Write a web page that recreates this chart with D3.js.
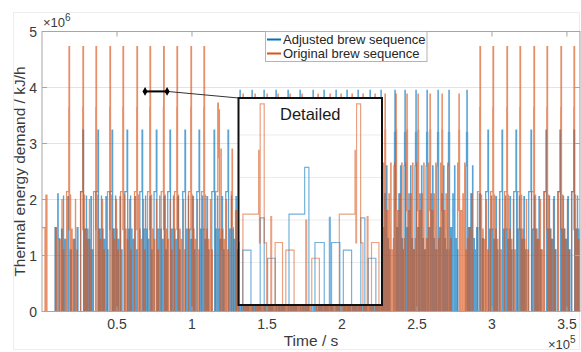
<!DOCTYPE html>
<html><head><meta charset="utf-8">
<script src="https://cdn.jsdelivr.net/npm/d3@7"></script>
<style>
html,body{margin:0;padding:0;background:#fff;}
svg{display:block;font-family:"Liberation Sans",Arial,Helvetica,sans-serif;}
</style></head><body>
<svg id="chart" width="581" height="352"></svg>
<script>
// ---------------- data (time in s, thermal energy demand in kJ/h) ----------------
const seriesNames = ["Adjusted brew sequence", "Original brew sequence"];
const xTickValues = [50000, 100000, 150000, 200000, 250000, 300000, 350000];
const xTickLabels = ["0.5", "1", "1.5", "2", "2.5", "3", "3.5"];
const yTickValues = [0, 1e6, 2e6, 3e6, 4e6, 5e6];
const yTickLabels = ["0", "1", "2", "3", "4", "5"];
const gridValues = [1e6, 2e6, 3e6, 4e6];

// Original sequence: brew cycles starting with the 4.73e6 peak (times read from the peaks)
const origCycleTimes = [18000, 27300, 36000, 45300, 54000, 63300, 72000, 81100, 90000, 99300, 108000,
  292000, 300700, 310000, 318700, 328000, 336700, 346000, 354700];
// one brew cycle, read from the "Detailed" view (offset to peak in s, level in kJ/h)
const origCycleOffsets = [-1630, -150, -70, 0, 380, 600, 1000, 1080, 1410, 2110, 2420, 3200, 4300, 4390, 4870, 5590];
const origCycleLevels = [2.14e6, 3.64e6, 1.46e6, 4.73e6, 1.46e6, 0, 2.08e6, 0, 1.47e6, 0, 1.29e6, 0, 2.0e6, 0, 1.1e6, 0];
// middle part: denser cycles with ~3.9e6 peaks
const origPeakTimes = [134000, 142000, 150000, 157300, 165300, 173300, 184000, 192000, 199300, 206700, 214000,
  222000, 228700, 236000, 243300, 250700, 258700, 266700, 278000];
const origPeakOffsets = [-900, -400, -150, 0, 200, 400, 1200, 2100, 2600, 2900, 3500, 3800, 4050, 4400, 5000, 5600, 6200];
const origPeakLevels = [2.65e6, 1.8e6, 3.24e6, 3.88e6, 3.24e6, 0, 1.8e6, 0, 2.1e6, 1.5e6, 0, 2.65e6, 0, 1.1e6, 0, 1.3e6, 0];
// remaining steps (start and transitions)
const origExtraTimes = [0, 2000, 2600, 3300, 9000, 9600, 11400, 12200, 13300, 13400, 13900, 14600,
  115700, 117200, 117600, 118000, 118300, 118600, 119300, 119500, 119900, 120600, 121000, 121700,
  123000, 123100, 123700, 124400, 126200, 126700, 127000, 127600, 129000, 129800, 131000, 131600,
  284800, 285500, 286500, 286800, 287400];
const origExtraLevels = [1.5e6, 0, 2.08e6, 0, 1.5e6, 0, 1.29e6, 0, 2.0e6, 0, 1.1e6, 0,
  2.14e6, 3.72e6, 2.75e6, 3.6e6, 1.46e6, 0, 2.9e6, 1.1e6, 1.47e6, 0, 1.29e6, 0,
  2.0e6, 0, 1.1e6, 0, 2.14e6, 2.9e6, 1.5e6, 0, 1.8e6, 0, 2.65e6, 0,
  1.5e6, 0, 2.1e6, 1.1e6, 0];

// Adjusted sequence: brew cycles starting with the 3.24e6 peak
const adjCycleTimes = [27300, 37300, 46700, 56700, 66700, 76200, 85300, 95300, 104700, 114700, 124000,
  297300, 306700, 316000, 326000, 336000, 345300, 354700];
const adjCycleOffsets = [-1480, 0, 400, 970, 1850, 2330, 2420, 2540, 3320, 3650, 4430, 5300, 5680, 6000, 6720];
const adjCycleLevels = [2.14e6, 3.24e6, 0, 1.47e6, 0, 2.06e6, 0, 1.47e6, 0, 1.29e6, 0, 2.05e6, 0, 1.1e6, 0];
const adjPeakTimes = [132000, 140000, 148000, 156000, 164000, 172000, 180700, 188000, 196000, 203300, 210700,
  218700, 226000, 235300, 242000, 249300, 256700, 264000, 271300, 283300];
const adjPeakOffsets = [-600, -300, 0, 200, 450, 1200, 1900, 2600, 2850, 3500, 3750, 4000, 4300, 5000, 5500, 6000];
const adjPeakLevels = [2.6e6, 3.2e6, 3.95e6, 3.2e6, 0, 1.5e6, 0, 2.1e6, 1.8e6, 0, 2.6e6, 0, 1.3e6, 0, 1.1e6, 0];
const adjExtraTimes = [8700, 9400, 10500, 10800, 11500, 13000, 13800, 14300, 14400, 15000, 15800, 17200, 17600,
  18800, 19500, 21300, 22000, 23400, 24000, 289800, 290500, 291600, 292300, 293500, 294200];
const adjExtraLevels = [1.5e6, 0, 2.1e6, 1.3e6, 0, 1.47e6, 0, 2.06e6, 0, 1.29e6, 0, 2.05e6, 0,
  1.1e6, 0, 1.29e6, 0, 1.5e6, 0, 1.5e6, 0, 2.1e6, 0, 1.3e6, 0];

// detailed view window and its marker in the main plot
const detailSpan = [70000, 83500];
const detailMax = 4.87e6;
const calloutSpan = [68700, 83400];
const calloutLevel = 3.93e6;

// ---------------- drawing ----------------
const colAdj = "#0072BD", colOrig = "#D95319";
const svg = d3.select("#chart");
const M = {left: 42, right: 580, top: 31.5, bottom: 311.5};
const tMax = 358700;
const x = d3.scaleLinear().domain([0, tMax]).range([M.left, M.right]);
const y = d3.scaleLinear().domain([0, 5e6]).range([M.bottom, M.top]);

function buildSteps(parts) {
  const pts = [];
  parts.forEach(p => {
    if (p.anchors) p.anchors.forEach(T => p.offsets.forEach((o, i) => pts.push([T + o, p.levels[i]])));
    else p.times.forEach((t, i) => pts.push([t, p.levels[i]]));
  });
  pts.sort((a, b) => a[0] - b[0]);
  if (pts[0][0] > 0) pts.unshift([0, 0]);
  pts.push([tMax + 5000, pts[pts.length - 1][1]]);
  return pts;
}
const origSteps = buildSteps([
  {anchors: origCycleTimes, offsets: origCycleOffsets, levels: origCycleLevels},
  {anchors: origPeakTimes, offsets: origPeakOffsets, levels: origPeakLevels},
  {times: origExtraTimes, levels: origExtraLevels}]);
const adjSteps = buildSteps([
  {anchors: adjCycleTimes, offsets: adjCycleOffsets, levels: adjCycleLevels},
  {anchors: adjPeakTimes, offsets: adjPeakOffsets, levels: adjPeakLevels},
  {times: adjExtraTimes, levels: adjExtraLevels}]);

const defs = svg.append("defs");
defs.append("clipPath").attr("id", "plotClip").append("rect")
  .attr("x", M.left).attr("y", M.top).attr("width", M.right - M.left).attr("height", M.bottom - M.top);

// faint figure frame
svg.append("rect").attr("x", 13.5).attr("y", 12.5).attr("width", 566).attr("height", 337)
  .attr("fill", "none").attr("stroke", "#ededed");

// grid
svg.append("g").selectAll("line").data(gridValues).join("line")
  .attr("x1", M.left).attr("x2", M.right).attr("y1", d => y(d)).attr("y2", d => y(d))
  .attr("stroke", "#e3e3e3").attr("stroke-width", 1);

// main series
const line = d3.line().x(d => x(d[0])).y(d => y(d[1])).curve(d3.curveStepAfter);
const gMain = svg.append("g").attr("clip-path", "url(#plotClip)");
gMain.append("path").datum(adjSteps).attr("d", line).attr("fill", "none")
  .attr("stroke", colAdj).attr("stroke-width", 1.25).attr("stroke-opacity", 0.65);
gMain.append("path").datum(origSteps).attr("d", line).attr("fill", "none")
  .attr("stroke", colOrig).attr("stroke-width", 1.25).attr("stroke-opacity", 0.65);

// axes box and ticks
const axCol = "#a6a6a6", txtCol = "#3a3a3a";
svg.append("rect").attr("x", M.left).attr("y", M.top).attr("width", M.right - M.left).attr("height", M.bottom - M.top)
  .attr("fill", "none").attr("stroke", axCol).attr("stroke-width", 1);
const gT = svg.append("g").attr("stroke", axCol).attr("stroke-width", 1);
xTickValues.forEach(v => {
  gT.append("line").attr("x1", x(v)).attr("x2", x(v)).attr("y1", M.bottom).attr("y2", M.bottom - 5);
  gT.append("line").attr("x1", x(v)).attr("x2", x(v)).attr("y1", M.top).attr("y2", M.top + 5);
});
yTickValues.forEach(v => {
  gT.append("line").attr("x1", M.left).attr("x2", M.left + 5).attr("y1", y(v)).attr("y2", y(v));
  gT.append("line").attr("x1", M.right).attr("x2", M.right - 5).attr("y1", y(v)).attr("y2", y(v));
});
svg.append("g").selectAll("text").data(xTickValues).join("text")
  .attr("x", d => x(d)).attr("y", 329).attr("text-anchor", "middle")
  .attr("font-size", 14).attr("fill", txtCol).text((d, i) => xTickLabels[i]);
svg.append("g").selectAll("text").data(yTickValues).join("text")
  .attr("x", 37).attr("y", d => y(d) + 5).attr("text-anchor", "end")
  .attr("font-size", 14).attr("fill", txtCol).text((d, i) => yTickLabels[i]);

// exponent labels
const e6 = svg.append("text").attr("x", 43).attr("y", 27).attr("font-size", 13).attr("fill", txtCol);
e6.append("tspan").text("\u00d710");
e6.append("tspan").attr("dy", -6).attr("font-size", 10).text("6");
const e5 = svg.append("text").attr("x", 548).attr("y", 349).attr("font-size", 13).attr("fill", txtCol);
e5.append("tspan").text("\u00d710");
e5.append("tspan").attr("dy", -6).attr("font-size", 10).text("5");

// axis titles
svg.append("text").attr("x", 311).attr("y", 346).attr("text-anchor", "middle")
  .attr("font-size", 15.5).attr("fill", txtCol).text("Time / s");
svg.append("text").attr("transform", "translate(25,171.5) rotate(-90)").attr("text-anchor", "middle")
  .attr("font-size", 15.5).attr("fill", txtCol).text("Thermal energy demand / kJ/h");

// inset "Detailed"
const IB = {x0: 238.5, y0: 98, x1: 382, y1: 305};
const xi = d3.scaleLinear().domain(detailSpan).range([IB.x0 + 0.5, IB.x1]);
const yi = d3.scaleLinear().domain([0, detailMax]).range([IB.y1, IB.y0]);
defs.append("clipPath").attr("id", "insetClip").append("rect")
  .attr("x", IB.x0).attr("y", IB.y0).attr("width", IB.x1 - IB.x0).attr("height", IB.y1 - IB.y0);
const gI = svg.append("g");
gI.append("rect").attr("x", IB.x0).attr("y", IB.y0).attr("width", IB.x1 - IB.x0).attr("height", IB.y1 - IB.y0)
  .attr("fill", "#fff");
gI.append("g").selectAll("line").data(gridValues).join("line")
  .attr("x1", IB.x0).attr("x2", IB.x1).attr("y1", d => yi(d)).attr("y2", d => yi(d))
  .attr("stroke", "#ececec");
const lineI = d3.line().x(d => xi(d[0])).y(d => yi(d[1])).curve(d3.curveStepAfter);
const gIc = gI.append("g").attr("clip-path", "url(#insetClip)");
gIc.append("path").datum(adjSteps).attr("d", lineI).attr("fill", "none")
  .attr("stroke", colAdj).attr("stroke-width", 1.2).attr("stroke-opacity", 0.55);
gIc.append("path").datum(origSteps).attr("d", lineI).attr("fill", "none")
  .attr("stroke", colOrig).attr("stroke-width", 1.2).attr("stroke-opacity", 0.55);
gI.append("rect").attr("x", IB.x0).attr("y", IB.y0).attr("width", IB.x1 - IB.x0).attr("height", IB.y1 - IB.y0)
  .attr("fill", "none").attr("stroke", "#111").attr("stroke-width", 2);
gI.append("text").attr("x", (IB.x0 + IB.x1) / 2).attr("y", 120).attr("text-anchor", "middle")
  .attr("font-size", 16.5).attr("fill", "#1a1a1a").text("Detailed");

// callout
const cy = y(calloutLevel);
svg.append("line").attr("x1", x(calloutSpan[1])).attr("y1", cy).attr("x2", IB.x0).attr("y2", IB.y0)
  .attr("stroke", "#333").attr("stroke-width", 1);
svg.append("line").attr("x1", x(calloutSpan[0])).attr("y1", cy).attr("x2", x(calloutSpan[1])).attr("y2", cy)
  .attr("stroke", "#000").attr("stroke-width", 2);
svg.append("g").selectAll("path").data(calloutSpan).join("path")
  .attr("transform", d => `translate(${x(d)},${cy})`)
  .attr("d", d3.symbol().type(d3.symbolDiamond).size(22)).attr("fill", "#000");

// legend
const lg = svg.append("g");
lg.append("rect").attr("x", 265.5).attr("y", 31.5).attr("width", 161.5).attr("height", 30)
  .attr("fill", "#fff").attr("stroke", "#b4b4b4");
[colAdj, colOrig].forEach((c, i) => {
  const ly = 39.5 + i * 14;
  lg.append("line").attr("x1", 267).attr("x2", 281).attr("y1", ly).attr("y2", ly)
    .attr("stroke", c).attr("stroke-width", 2);
  lg.append("text").attr("x", 283).attr("y", ly + 4.5).attr("font-size", 13).attr("fill", "#262626")
    .text(seriesNames[i]);
});
</script>
</body></html>
